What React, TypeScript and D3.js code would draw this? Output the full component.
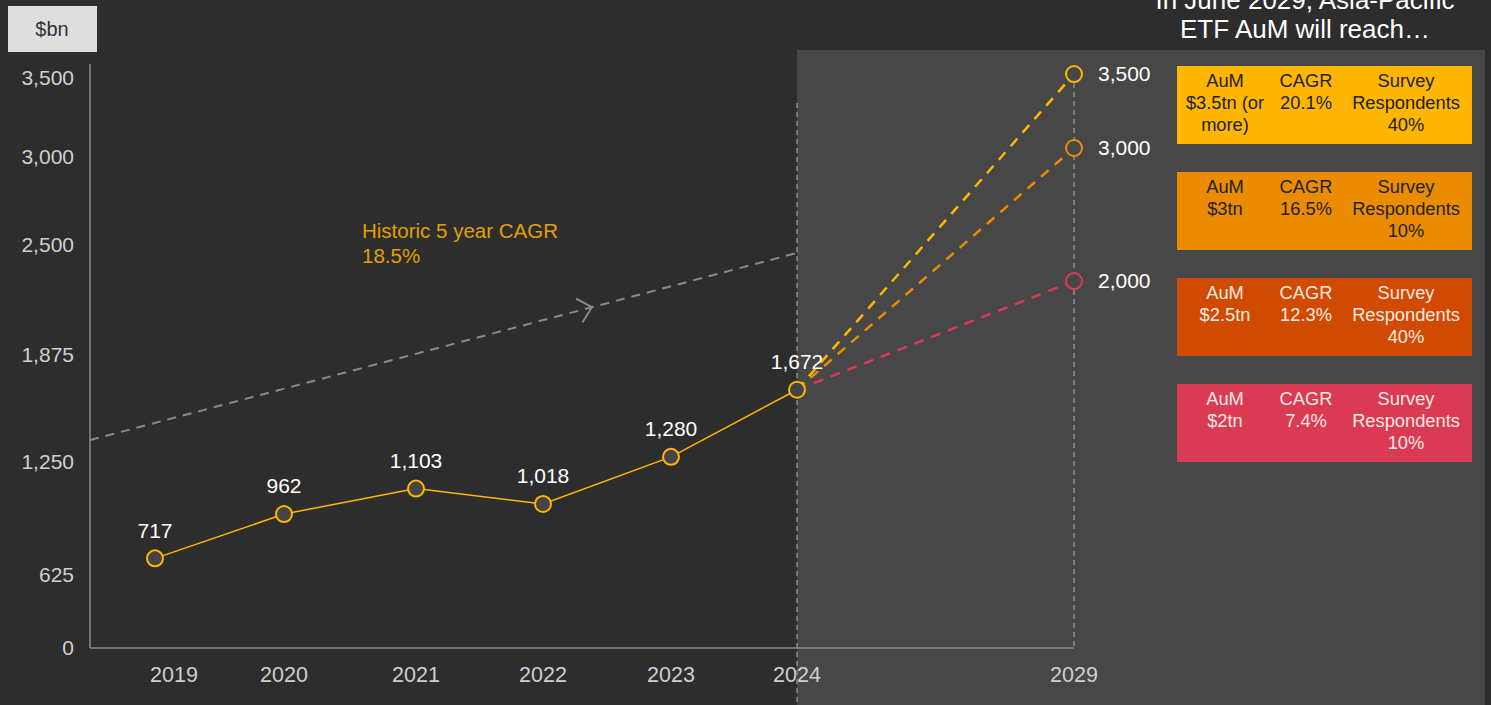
import React from "react";
import * as d3 from "d3";

const years = [2019, 2020, 2021, 2022, 2023, 2024];
const aum = [717, 962, 1103, 1018, 1280, 1672];
const yTicks = [0, 625, 1250, 1875, 2500, 3000, 3500];
const forecastYear = 2029;
const forecastLabels = [3500, 3000, 2000];
const forecastPlotAt = [3525, 3057, 2295];
const forecastColors = ["#FFB600", "#EB8C00", "#DB3A55"];
const historicStart = 1378;
const historicEnd = 2455;
const scenarioAuM = [["AuM", "$3.5tn (or", "more)"], ["AuM", "$3tn"], ["AuM", "$2.5tn"], ["AuM", "$2tn"]];
const scenarioCagr = ["20.1%", "16.5%", "12.3%", "7.4%"];
const scenarioResp = ["40%", "10%", "40%", "10%"];
const scenarioFill = ["#FFB600", "#EB8C00", "#D04A02", "#DB3A55"];
const scenarioText = ["#222", "#222", "#fbe9e0", "#fbe9e0"];

const W = 1491, H = 705;
const FONT = "'Liberation Sans', Arial, Helvetica, sans-serif";

export default function App() {
  const x = d3.scaleLinear().domain([2019, 2020, 2021, 2022, 2023, 2024, 2029]).range([155, 284, 416, 543, 671, 797, 1074]);
  const y = d3.scaleLinear().domain(yTicks).range([648, 575, 462, 355, 245, 157, 78]);
  const axisX = 90;
  const line = d3.line<number>().x((_, i) => x(years[i])).y((d) => y(d));
  const fmt = d3.format(",");
  const lastX = x(2024), lastY = y(aum[aum.length - 1]);
  const fx = x(forecastYear);

  const hx0 = axisX, hy0 = y(historicStart), hx1 = x(2024), hy1 = y(historicEnd);
  const t = 0.71;
  const ax = hx0 + (hx1 - hx0) * t, ay = hy0 + (hy1 - hy0) * t;
  const ang = Math.atan2(hy1 - hy0, hx1 - hx0);
  const al = 18, aw = 0.75;
  const a1 = [ax - al * Math.cos(ang - aw), ay - al * Math.sin(ang - aw)];
  const a2 = [ax - al * Math.cos(ang + aw), ay - al * Math.sin(ang + aw)];

  const colX = [1225, 1306, 1406];
  return (
    <svg width={W} height={H} style={{ position: "fixed", left: 0, top: 0, display: "block" }} fontFamily={FONT}>
      <rect x={0} y={0} width={W} height={H} fill="#2d2d2d" />
      <rect x={lastX} y={50} width={1485 - lastX} height={H - 50} fill="#474747" />
      {/* $bn box */}
      <rect x={8} y={6} width={89} height={46} fill="#dedede" />
      <text x={52} y={36} textAnchor="middle" fontSize={20} fill="#333">$bn</text>
      {/* title */}
      <text x={1305} y={9} textAnchor="middle" fontSize={26} fill="#fff">In June 2029, Asia-Pacific</text>
      <text x={1305} y={38} textAnchor="middle" fontSize={26} fill="#fff">ETF AuM will reach…</text>
      {/* axes */}
      <line x1={axisX} x2={axisX} y1={64} y2={y(0)} stroke="#8a8a8a" strokeWidth={1.5} />
      <line x1={axisX} x2={fx} y1={y(0)} y2={y(0)} stroke="#8a8a8a" strokeWidth={1.5} />
      {yTicks.map((v) => (
        <text key={v} x={74} y={y(v)} dy="0.35em" textAnchor="end" fontSize={21} fill="#cfcfcf">{fmt(v)}</text>
      ))}
      {[...years, forecastYear].map((yr, i) => (
        <text key={yr} x={x(yr) + (i === 0 ? 19 : 0)} y={682} textAnchor="middle" fontSize={21.5} fill="#cfcfcf">{yr}</text>
      ))}
      {/* vertical dashed lines */}
      <line x1={lastX} x2={lastX} y1={103} y2={H} stroke="#8d8d8d" strokeWidth={1.5} strokeDasharray="5,4" />
      <line x1={fx} x2={fx} y1={y(forecastPlotAt[0]) + 9} y2={y(0)} stroke="#8d8d8d" strokeWidth={1.5} strokeDasharray="5,4" />
      {/* historic CAGR */}
      <line x1={hx0} y1={hy0} x2={hx1} y2={hy1} stroke="#8a8a8a" strokeWidth={2} strokeDasharray="9,7" />
      <polyline points={`${a1[0]},${a1[1]} ${ax},${ay} ${a2[0]},${a2[1]}`} fill="none" stroke="#8a8a8a" strokeWidth={2} />
      <text x={362} y={238} fontSize={20.5} fill="#E0A100">Historic 5 year CAGR</text>
      <text x={362} y={263} fontSize={20.5} fill="#E0A100">18.5%</text>
      {/* forecast lines */}
      {forecastPlotAt.map((v, i) => (
        <line key={i} x1={lastX} y1={lastY} x2={fx} y2={y(v)} stroke={forecastColors[i]} strokeWidth={2.5} strokeDasharray="10,8" />
      ))}
      {/* history line */}
      <path d={line(aum) || ""} fill="none" stroke="#FFB600" strokeWidth={1.5} />
      {aum.map((v, i) => (
        <g key={i}>
          <circle cx={x(years[i])} cy={y(v)} r={8} fill="#444" stroke="#FFB600" strokeWidth={2} />
          <text x={x(years[i])} y={y(v) - 28} dy="0.35em" textAnchor="middle" fontSize={21} fill="#fff">{fmt(v)}</text>
        </g>
      ))}
      {forecastPlotAt.map((v, i) => (
        <g key={i}>
          <circle cx={fx} cy={y(v)} r={8} fill="#474747" stroke={forecastColors[i]} strokeWidth={2} />
          <text x={fx + 24} y={y(v)} dy="0.35em" fontSize={21} fill="#fff">{fmt(forecastLabels[i])}</text>
        </g>
      ))}
      {/* scenario boxes */}
      {scenarioFill.map((c, i) => {
        const top = 66 + i * 106;
        const cols = [scenarioAuM[i], ["CAGR", scenarioCagr[i]], ["Survey", "Respondents", scenarioResp[i]]];
        return (
          <g key={i}>
            <rect x={1177} y={top} width={295} height={78} fill={c} />
            {cols.map((lines, ci) =>
              lines.map((s, li) => (
                <text key={`${ci}-${li}`} x={colX[ci]} y={top + 21 + li * 22} textAnchor="middle" fontSize={18.3} fill={scenarioText[i]}>{s}</text>
              ))
            )}
          </g>
        );
      })}
    </svg>
  );
}
